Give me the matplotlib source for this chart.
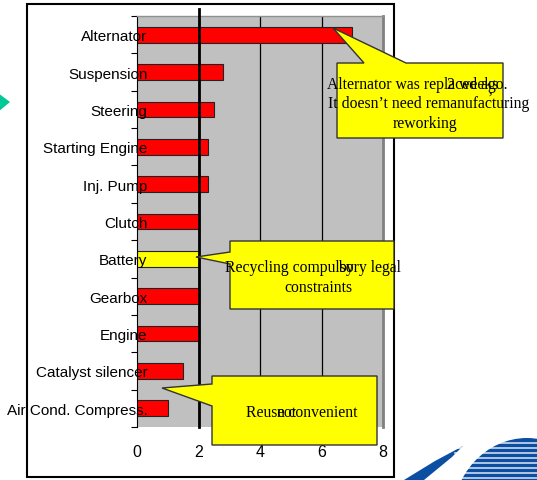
import matplotlib
matplotlib.use('Agg')
import matplotlib.pyplot as plt
import numpy as np
from matplotlib.patches import Polygon, Rectangle, Ellipse

# ---- data ----
categories = ["Alternator", "Suspension", "Steering", "Starting Engine", "Inj. Pump",
              "Clutch", "Battery", "Gearbox", "Engine", "Catalyst silencer",
              "Air Cond. Compress."]
values = [7.0, 2.8, 2.5, 2.3, 2.3, 2.0, 2.0, 2.0, 2.0, 1.5, 1.0]
highlight = ["Battery"]
x_ticks = [0, 2, 4, 6, 8]
threshold = 2

W, H = 537, 481
fig = plt.figure(figsize=(W / 100, H / 100), dpi=100)

SANS = ['Liberation Sans', 'DejaVu Sans']
SERIF = ['Liberation Serif', 'DejaVu Serif']

# ---- background layer (frame, decorations) ----
bg = fig.add_axes([0, 0, 1, 1], zorder=0)
bg.set_xlim(0, W)
bg.set_ylim(H, 0)
bg.axis('off')
bg.add_patch(Rectangle((27, 5), 367, 473, facecolor='white', edgecolor='black', lw=1.5))
bg.add_patch(Polygon([(-2, 94), (10, 103), (-2, 113)], closed=True,
                     facecolor='#00C896', edgecolor='none'))

# ---- chart ----
ax = fig.add_axes([137 / W, 1 - 428 / H, 246 / W, 411 / H], zorder=1)
y = np.arange(len(categories))
colors = ['#FFFF00' if c in highlight else '#FF0000' for c in categories]
ax.barh(y, values, height=0.42, color=colors, edgecolor='#222222', lw=0.8, zorder=1)
ax.set_xlim(x_ticks[0], x_ticks[-1])
ax.set_ylim(len(categories) - 0.5, -0.5)
ax.set_facecolor('#C0C0C0')
for v in x_ticks[1:-1]:
    ax.axvline(v, color='black', lw=0.9, zorder=0.5)
ax.axvline(threshold, ymin=0, ymax=1.017, color='black', lw=2, zorder=3, clip_on=False)

ax.set_yticks(y)
ax.set_yticklabels(categories, fontfamily=SANS, fontsize=11)
ax.set_yticks(np.arange(-0.5, len(categories)), minor=True)
ax.tick_params(axis='y', which='major', length=0, pad=-7.5)
ax.tick_params(axis='y', which='minor', length=4, direction='out', width=0.8)
ax.set_xticks(x_ticks)
ax.set_xticklabels([str(v) for v in x_ticks], fontfamily=SANS, fontsize=11.5)
ax.tick_params(axis='x', length=0, pad=12)
ax.spines['bottom'].set_visible(False)
ax.spines['left'].set_color('black')
ax.spines['left'].set_linewidth(0.8)
ax.spines['top'].set_color('#909090')
ax.spines['top'].set_linewidth(1)
ax.spines['right'].set_color('#808080')
ax.spines['right'].set_linewidth(2)

# ---- overlay layer (callouts, logo) ----
ov = fig.add_axes([0, 0, 1, 1], zorder=2)
ov.set_xlim(0, W)
ov.set_ylim(H, 0)
ov.axis('off')
ov.patch.set_alpha(0)

YEL = '#FFFF00'
EC = '#333333'


def callout_top(x0, y0, x1, y1, b1, b2, tip):
    pts = [(x0, y0), (b1, y0), tip, (b2, y0), (x1, y0), (x1, y1), (x0, y1)]
    ov.add_patch(Polygon(pts, closed=True, facecolor=YEL, edgecolor=EC, lw=1, zorder=2))


def callout_left(x0, y0, x1, y1, b1, b2, tip):
    pts = [(x0, y0), (x1, y0), (x1, y1), (x0, y1), (x0, b2), tip, (x0, b1)]
    ov.add_patch(Polygon(pts, closed=True, facecolor=YEL, edgecolor=EC, lw=1, zorder=2))


callout_top(337, 64, 503, 139, 364, 406, (333, 29))
callout_left(230, 242, 394, 310, 253, 265, (196, 258))
callout_left(212, 377, 377, 446, 385, 407, (162, 389))

tk = dict(fontfamily=SERIF, fontsize=11.3, color='black', va='center', zorder=3)
ov.text(327, 85, "Alternator was replaced ago.", ha='left', **tk)
ov.text(447, 85, "2 weeks", ha='left', **tk)
ov.text(429, 104, "It doesn\u2019t need remanufacturing", ha='center', **tk)
ov.text(490, 99, "\u2019", ha='center', **tk)
ov.text(425, 124, "reworking", ha='center', **tk)

ov.text(225, 268, "Recycling compulsory legal", ha='left', **tk)
ov.text(338, 268, "by", ha='left', **tk)
ov.text(318, 288, "constraints", ha='center', **tk)

ov.text(246, 413, "Reuse convenient", ha='left', **tk)
ov.text(277, 413, "not", ha='left', **tk)

# logo
BLUE = '#0B4EA2'
ov.add_patch(Ellipse((527, 521), 150, 164, facecolor=BLUE, edgecolor='none', zorder=2))
ov.add_patch(Polygon([(404, 481), (435, 462), (463, 447), (452, 458), (424, 481)],
                     closed=True, facecolor=BLUE, edgecolor='none', zorder=2))
for yy in np.arange(444, 482, 5):
    ov.plot([455, 540], [yy, yy], color='white', lw=1.2, alpha=0.8, zorder=2.5)

fig.savefig('out.png', dpi=100)
